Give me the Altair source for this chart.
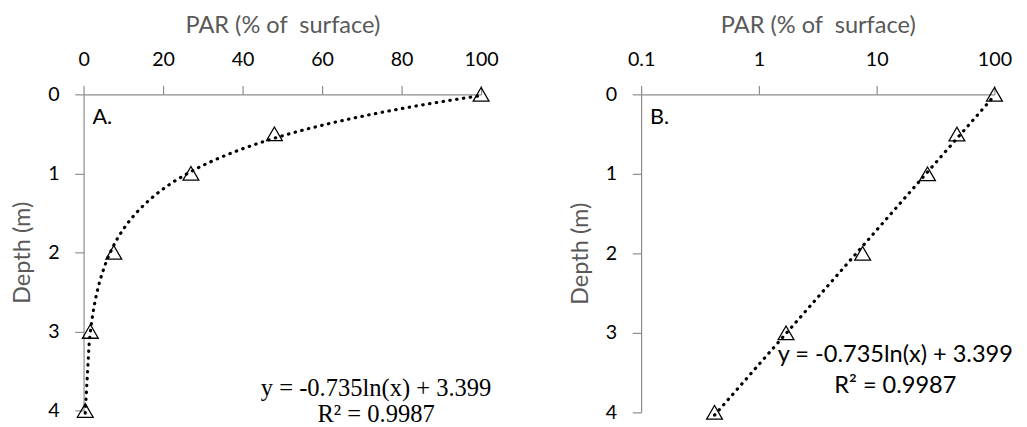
import altair as alt
import pandas as pd

# Data
par = [100, 48, 27, 7.6, 1.7, 0.42]
depth = [0, 0.5, 1, 2, 3, 4]

x_ticks_lin = [0, 20, 40, 60, 80, 100]
x_ticks_log = [0.1, 1, 10, 100]
y_ticks = [0, 1, 2, 3, 4]

x_title = "PAR (% of\u00a0 surface)"
y_title = "Depth (m)"
eq_line1 = "y = -0.735ln(x) + 3.399"
eq_line2 = "R² = 0.9987"

df = pd.DataFrame({"par": par, "depth": depth})

SANS = "Lato"
SERIF = "Liberation Serif"
AXIS_GREY = "#8c8c8c"
TITLE_GREY = "#595959"


def panel(log_x, label, eq_font, eq_size, eq_x, eq_y1, eq_y2, width, height):
    if log_x:
        xscale = alt.Scale(type="log", domain=[0.1, 100])
        xaxis = alt.Axis(orient="top", values=x_ticks_log, format="~g",
                         title=x_title, labelFlush=False)
    else:
        xscale = alt.Scale(domain=[0, 100])
        xaxis = alt.Axis(orient="top", values=x_ticks_lin,
                         title=x_title, labelFlush=False)
    yscale = alt.Scale(domain=[0, 4], reverse=True)
    yaxis = alt.Axis(values=y_ticks, title=y_title, labelFlush=False)

    base = alt.Chart(df)
    trend = base.transform_regression(
        "par", "depth", method="log"
    ).mark_line(
        color="black", strokeWidth=3.2, strokeDash=[0.5, 6.5], strokeCap="round",
        clip=False
    ).encode(
        x=alt.X("par:Q", scale=xscale, axis=xaxis),
        y=alt.Y("depth:Q", scale=yscale, axis=yaxis),
    )
    pts = base.mark_point(
        shape="triangle-up", filled=False, color="black", strokeWidth=1.3,
        size=260, opacity=1, clip=False
    ).encode(
        x=alt.X("par:Q", scale=xscale, axis=xaxis),
        y=alt.Y("depth:Q", scale=yscale, axis=yaxis),
    )
    lab = alt.Chart(pd.DataFrame({"t": [label]})).mark_text(
        align="left", baseline="alphabetic", font=SANS, fontSize=22, color="black"
    ).encode(x=alt.value(9), y=alt.value(30), text="t:N")
    eq = alt.Chart(pd.DataFrame({"t": [eq_line1, eq_line2],
                                 "yy": [eq_y1, eq_y2]})).mark_text(
        align="center", baseline="alphabetic", font=eq_font, fontSize=eq_size,
        color="black"
    ).encode(x=alt.value(eq_x), y=alt.Y("yy:Q", scale=None), text="t:N")
    return alt.layer(trend, pts, lab, eq).properties(width=width, height=height)


left = panel(False, "A.", SERIF, 25, 298, 307, 334, 405, 322)
right = panel(True, "B.", SANS, 24, 259, 273, 304, 360, 324)

chart = alt.hconcat(left, right, spacing=71).properties(
    padding={"left": 3, "top": 2, "right": 5, "bottom": 0}
).configure_view(strokeWidth=0).configure_axis(
    grid=False,
    domainColor=AXIS_GREY, tickColor=AXIS_GREY, domainWidth=1.2, tickWidth=1.2,
    tickSize=9,
    labelFont=SANS, labelFontSize=20, labelColor="black", labelPadding=16,
    titleFont=SANS, titleFontSize=24, titleColor=TITLE_GREY,
    titleFontWeight="normal", titlePadding=13,
)

chart.save("out.html", embed_options={"renderer": "svg", "actions": False})
